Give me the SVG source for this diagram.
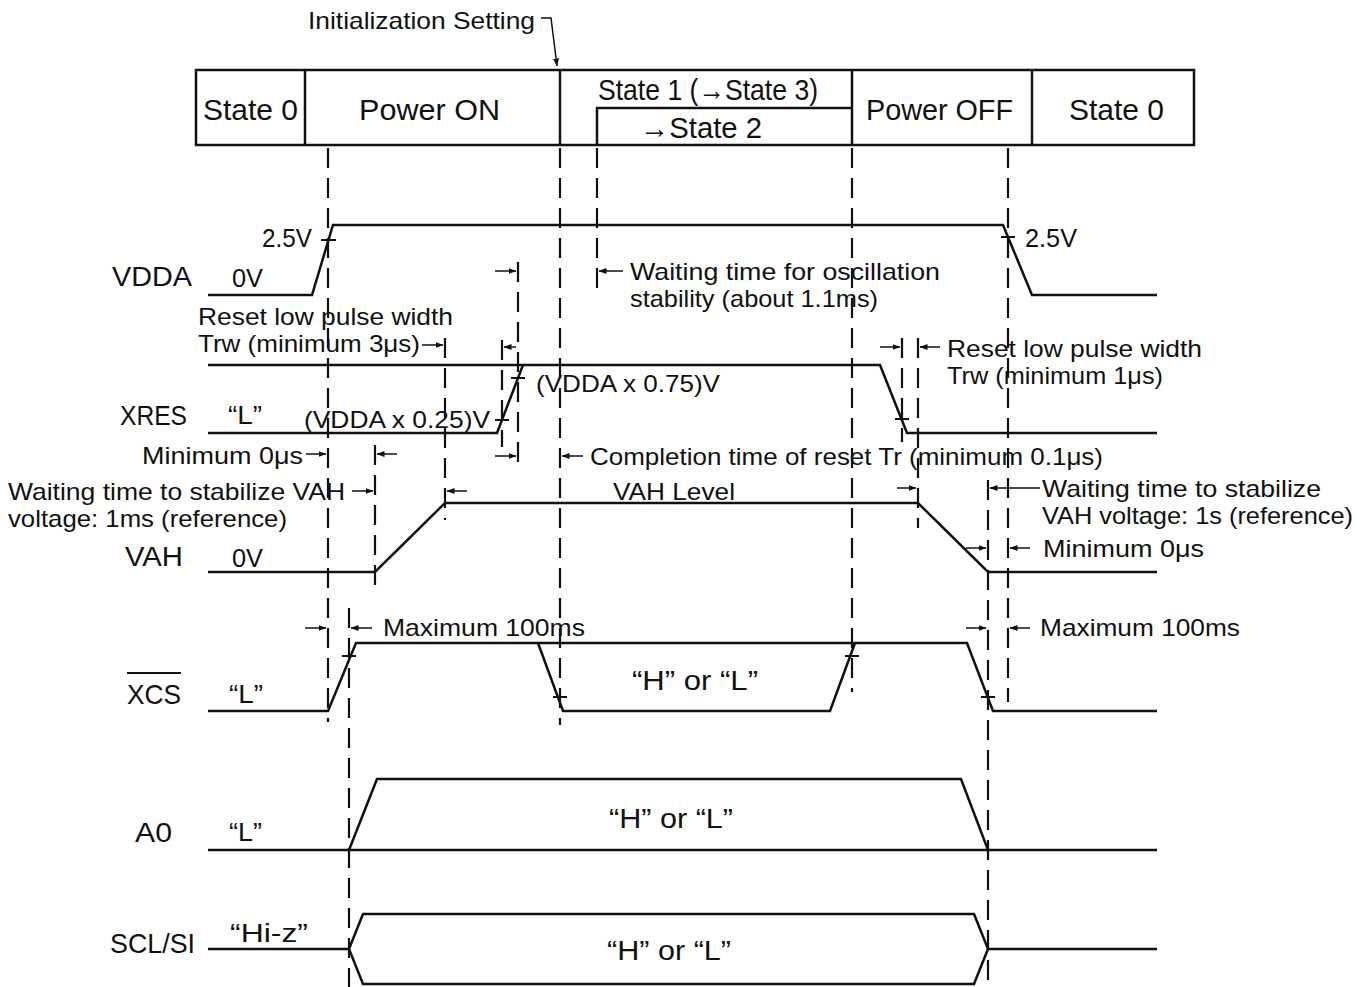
<svg xmlns="http://www.w3.org/2000/svg" width="1367" height="987" viewBox="0 0 1367 987">
<defs>
<marker id="ah" markerWidth="8" markerHeight="6" refX="7.5" refY="3" orient="auto" markerUnits="userSpaceOnUse"><path d="M0,0 L8,3 L0,6 z" fill="#111"/></marker>
</defs>
<style>
text { font-family: "Liberation Sans", Arial, sans-serif; fill:#111; }
.hd { font-size:30px; }
.sig { font-size:28px; }
.lv { font-size:25px; }
.an { font-size:24px; }
.hl { font-size:28px; }
.w { fill:none; stroke:#111; stroke-width:2.5; stroke-linejoin:miter; }
.box { fill:none; stroke:#111; stroke-width:2.5; }
.dash { stroke:#111; stroke-width:2.2; stroke-dasharray:20 10; fill:none; }
.tk { stroke:#111; stroke-width:2; }
.ar { stroke:#111; stroke-width:1.5; fill:none; marker-end:url(#ah); }
</style>
<rect width="1367" height="987" fill="#fff"/>

<g id="header">
  <rect x="196" y="70" width="998" height="75" class="box"/>
  <g id="cell-state0-a"><line x1="305" y1="70" x2="305" y2="145" class="box"/><text x="203" y="120" class="hd" textLength="95" lengthAdjust="spacingAndGlyphs">State 0</text></g>
  <g id="cell-power-on"><line x1="560" y1="70" x2="560" y2="145" class="box"/><text x="359" y="120" class="hd" textLength="141" lengthAdjust="spacingAndGlyphs">Power ON</text></g>
  <g id="cell-state1"><polyline points="597,145 597,108 852,108" class="box"/><text x="598" y="100" class="hd" textLength="220" lengthAdjust="spacingAndGlyphs">State 1 (→State 3)</text><text x="640" y="138" class="hd" textLength="122" lengthAdjust="spacingAndGlyphs">→State 2</text></g>
  <g id="cell-power-off"><line x1="852" y1="70" x2="852" y2="145" class="box"/><text x="866" y="120" class="hd" textLength="147" lengthAdjust="spacingAndGlyphs">Power OFF</text></g>
  <g id="cell-state0-b"><line x1="1032" y1="70" x2="1032" y2="145" class="box"/><text x="1069" y="120" class="hd" textLength="95" lengthAdjust="spacingAndGlyphs">State 0</text></g>
  <g id="init-setting"><text x="308" y="29" class="an" textLength="227" lengthAdjust="spacingAndGlyphs">Initialization Setting</text><path d="M541,18 H551 L557,66" class="ar"/></g>
</g>

<g id="connectors">
  <line x1="328" y1="148" x2="328" y2="722" class="dash"/>
  <line x1="349" y1="608" x2="349" y2="987" class="dash"/>
  <line x1="375" y1="445" x2="375" y2="592" class="dash"/>
  <line x1="445" y1="338" x2="445" y2="520" class="dash"/>
  <line x1="502" y1="340" x2="502" y2="447" class="dash"/>
  <line x1="518" y1="262" x2="518" y2="463" class="dash"/>
  <line x1="560" y1="148" x2="560" y2="725" class="dash"/>
  <line x1="597" y1="148" x2="597" y2="290" class="dash"/>
  <line x1="852" y1="148" x2="852" y2="692" class="dash"/>
  <line x1="902" y1="338" x2="902" y2="442" class="dash"/>
  <line x1="918" y1="338" x2="918" y2="528" class="dash"/>
  <line x1="988" y1="480" x2="988" y2="987" class="dash"/>
  <line x1="1008" y1="148" x2="1008" y2="702" class="dash"/>
  <!-- dimension arrows -->
  <line x1="495" y1="271" x2="516" y2="271" class="ar"/>
  <line x1="623" y1="271" x2="599" y2="271" class="ar"/>
  <line x1="422" y1="345" x2="443" y2="345" class="ar"/>
  <line x1="516" y1="347" x2="504" y2="347" class="ar"/>
  <line x1="880" y1="347" x2="900" y2="347" class="ar"/>
  <line x1="940" y1="347" x2="920" y2="347" class="ar"/>
  <line x1="306" y1="454" x2="326" y2="454" class="ar"/>
  <line x1="397" y1="454" x2="377" y2="454" class="ar"/>
  <line x1="495" y1="456" x2="516" y2="456" class="ar"/>
  <line x1="583" y1="456" x2="562" y2="456" class="ar"/>
  <line x1="352" y1="491" x2="373" y2="491" class="ar"/>
  <line x1="467" y1="491" x2="447" y2="491" class="ar"/>
  <line x1="897" y1="488" x2="916" y2="488" class="ar"/>
  <line x1="1040" y1="488" x2="990" y2="488" class="ar"/>
  <line x1="966" y1="548" x2="986" y2="548" class="ar"/>
  <line x1="1030" y1="548" x2="1010" y2="548" class="ar"/>
  <line x1="305" y1="628" x2="326" y2="628" class="ar"/>
  <line x1="372" y1="628" x2="351" y2="628" class="ar"/>
  <line x1="966" y1="628" x2="986" y2="628" class="ar"/>
  <line x1="1030" y1="628" x2="1010" y2="628" class="ar"/>
</g>

<g id="vdda">
  <text x="112" y="286" class="sig" textLength="80" lengthAdjust="spacingAndGlyphs">VDDA</text>
  <text x="232" y="287" class="lv" textLength="31" lengthAdjust="spacingAndGlyphs">0V</text>
  <text x="262" y="247" class="lv" textLength="50" lengthAdjust="spacingAndGlyphs">2.5V</text>
  <text x="1025" y="247" class="lv" textLength="52" lengthAdjust="spacingAndGlyphs">2.5V</text>
  <polyline points="208,295 312,295 333,225 1003,225 1032,295 1157,295" class="w"/>
  <line x1="321" y1="240" x2="336" y2="240" class="tk"/>
  <line x1="1001" y1="237" x2="1015" y2="237" class="tk"/>
</g>

<g id="xres">
  <text x="120" y="425" class="sig" textLength="67" lengthAdjust="spacingAndGlyphs">XRES</text>
  <text x="228" y="424" class="lv" textLength="34" lengthAdjust="spacingAndGlyphs">“L”</text>
  <polyline points="208,365 880,365 907,433 1157,433" class="w"/>
  <polyline points="208,433 497,433 523,365" class="w"/>
  <line x1="495" y1="420" x2="509" y2="420" class="tk"/>
  <line x1="511" y1="378" x2="525" y2="378" class="tk"/>
  <line x1="895" y1="419" x2="909" y2="419" class="tk"/>
</g>

<g id="vah">
  <text x="125" y="566" class="sig" textLength="58" lengthAdjust="spacingAndGlyphs">VAH</text>
  <text x="232" y="567" class="lv" textLength="31" lengthAdjust="spacingAndGlyphs">0V</text>
  <polyline points="208,572 375,572 445,503 918,503 988,572 1157,572" class="w"/>
</g>

<g id="xcs">
  <text x="127" y="704" class="sig" textLength="54" lengthAdjust="spacingAndGlyphs">XCS</text>
  <line x1="127" y1="673" x2="181" y2="673" class="tk"/>
  <text x="229" y="703" class="lv" textLength="34" lengthAdjust="spacingAndGlyphs">“L”</text>
  <polyline points="208,711 328,711 356,643 967,643 993,711 1157,711" class="w"/>
  <polyline points="538,643 563,711 830,711 855,643" class="w"/>
  <line x1="342" y1="656" x2="356" y2="656" class="tk"/>
  <line x1="553" y1="697" x2="567" y2="697" class="tk"/>
  <line x1="845" y1="656" x2="859" y2="656" class="tk"/>
  <line x1="981" y1="697" x2="995" y2="697" class="tk"/>
  <text x="632" y="690" class="hl" textLength="126" lengthAdjust="spacingAndGlyphs">“H” or “L”</text>
</g>

<g id="a0">
  <text x="135" y="842" class="sig" textLength="37" lengthAdjust="spacingAndGlyphs">A0</text>
  <text x="229" y="841" class="lv" textLength="33" lengthAdjust="spacingAndGlyphs">“L”</text>
  <line x1="208" y1="850" x2="1157" y2="850" class="w"/>
  <polyline points="349,850 377,779 961,779 988,850" class="w"/>
  <text x="609" y="828" class="hl" textLength="124" lengthAdjust="spacingAndGlyphs">“H” or “L”</text>
</g>

<g id="scl-si">
  <text x="110" y="953" class="sig" textLength="85" lengthAdjust="spacingAndGlyphs">SCL/SI</text>
  <text x="230" y="942" class="lv" textLength="78" lengthAdjust="spacingAndGlyphs">“Hi-z”</text>
  <polyline points="208,949 349,949 363,914 974,914 988,949 1157,949" class="w"/>
  <polyline points="349,949 363,984 974,984 988,949" class="w"/>
  <text x="607" y="960" class="hl" textLength="124" lengthAdjust="spacingAndGlyphs">“H” or “L”</text>
</g>

<g id="annotations">
  <text x="630" y="280" class="an" textLength="310" lengthAdjust="spacingAndGlyphs">Waiting time for oscillation</text>
  <text x="630" y="307" class="an" textLength="248" lengthAdjust="spacingAndGlyphs">stability (about 1.1ms)</text>
  <text x="198" y="325" class="an" textLength="255" lengthAdjust="spacingAndGlyphs">Reset low pulse width</text>
  <text x="198" y="352" class="an" textLength="222" lengthAdjust="spacingAndGlyphs">Trw (minimum 3μs)</text>
  <text x="947" y="357" class="an" textLength="255" lengthAdjust="spacingAndGlyphs">Reset low pulse width</text>
  <text x="947" y="384" class="an" textLength="216" lengthAdjust="spacingAndGlyphs">Trw (minimum 1μs)</text>
  <text x="536" y="392" class="an" textLength="184" lengthAdjust="spacingAndGlyphs">(VDDA x 0.75)V</text>
  <text x="304" y="428" class="an" textLength="186" lengthAdjust="spacingAndGlyphs">(VDDA x 0.25)V</text>
  <text x="142" y="464" class="an" textLength="161" lengthAdjust="spacingAndGlyphs">Minimum 0μs</text>
  <text x="590" y="465" class="an" textLength="513" lengthAdjust="spacingAndGlyphs">Completion time of reset Tr (minimum 0.1μs)</text>
  <text x="8" y="500" class="an" textLength="337" lengthAdjust="spacingAndGlyphs">Waiting time to stabilize VAH</text>
  <text x="8" y="527" class="an" textLength="279" lengthAdjust="spacingAndGlyphs">voltage: 1ms (reference)</text>
  <text x="613" y="500" class="an" textLength="122" lengthAdjust="spacingAndGlyphs">VAH Level</text>
  <text x="1042" y="497" class="an" textLength="279" lengthAdjust="spacingAndGlyphs">Waiting time to stabilize</text>
  <text x="1042" y="524" class="an" textLength="311" lengthAdjust="spacingAndGlyphs">VAH voltage: 1s (reference)</text>
  <text x="1043" y="557" class="an" textLength="161" lengthAdjust="spacingAndGlyphs">Minimum 0μs</text>
  <text x="383" y="636" class="an" textLength="202" lengthAdjust="spacingAndGlyphs">Maximum 100ms</text>
  <text x="1040" y="636" class="an" textLength="200" lengthAdjust="spacingAndGlyphs">Maximum 100ms</text>
</g>
</svg>
